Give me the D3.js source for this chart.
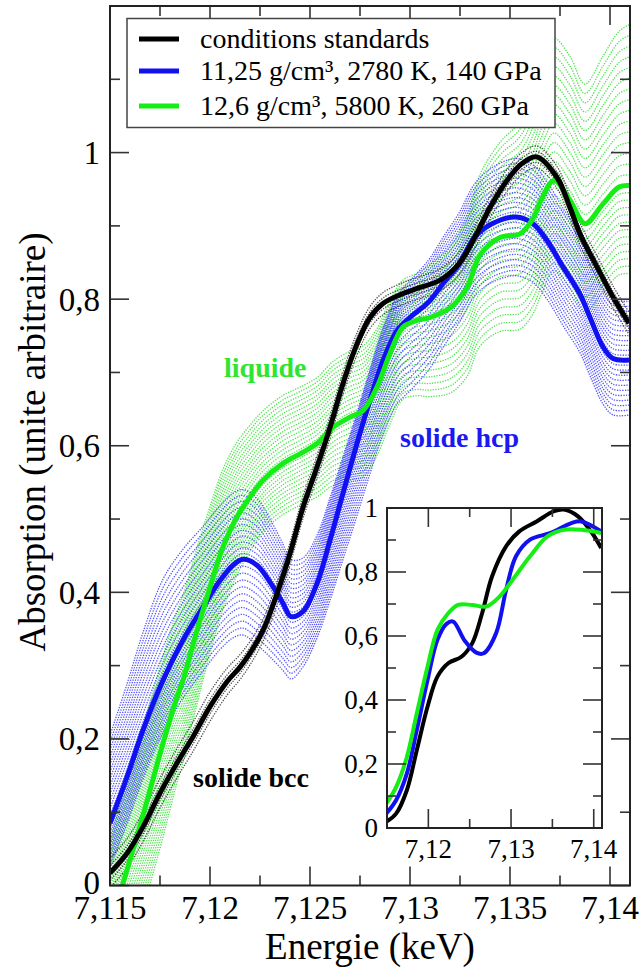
<!DOCTYPE html>
<html>
<head>
<meta charset="utf-8">
<script src="https://cdn.jsdelivr.net/npm/d3@7"></script>
<style>
    body { margin: 0; background: #fff; }
    svg text { font-family: "Liberation Serif", "Times New Roman", serif; }
</style>
</head>
<body>
<div id="chart"></div>
<script>
// main spectra (energy in keV, absorption)
const blackE = [7.115, 7.11585, 7.11665, 7.1175, 7.11835, 7.11915, 7.12, 7.12085, 7.1215, 7.122, 7.12265, 7.12335,
    7.124, 7.12465, 7.12535, 7.126, 7.12665, 7.12735, 7.128, 7.12865, 7.1295, 7.1305, 7.1315, 7.1325, 7.13325,
    7.134, 7.13485, 7.1356, 7.13635, 7.13735, 7.138, 7.1385, 7.13935, 7.14015, 7.14095];
const blackV = [0.017, 0.044, 0.080, 0.126, 0.167, 0.203, 0.244, 0.278, 0.298, 0.317, 0.348, 0.398,
    0.453, 0.516, 0.571, 0.625, 0.685, 0.739, 0.775, 0.794, 0.806, 0.816, 0.826, 0.850, 0.885,
    0.925, 0.962, 0.985, 0.994, 0.966, 0.925, 0.889, 0.844, 0.803, 0.767];

const blueE = [7.115, 7.11585, 7.11665, 7.11765, 7.11865, 7.11965, 7.1205, 7.12115, 7.12165, 7.12235, 7.123, 7.12365,
    7.12405, 7.12465, 7.12535, 7.126, 7.12665, 7.12735, 7.128, 7.12865, 7.12935, 7.13, 7.13065, 7.131, 7.13165,
    7.13245, 7.13325, 7.1341, 7.1353, 7.13615, 7.13685, 7.13765, 7.1385, 7.139, 7.13965, 7.14015, 7.14095];
const blueV = [0.085, 0.148, 0.212, 0.280, 0.335, 0.380, 0.416, 0.437, 0.445, 0.437, 0.414, 0.385,
    0.367, 0.374, 0.412, 0.471, 0.535, 0.603, 0.662, 0.716, 0.757, 0.775, 0.789, 0.798, 0.821,
    0.848, 0.885, 0.903, 0.912, 0.903, 0.880, 0.844, 0.807, 0.775, 0.735, 0.719, 0.717];

const greenE = [7.115, 7.11565, 7.11635, 7.117, 7.11765, 7.11835, 7.11865, 7.11935, 7.12, 7.12065, 7.12135, 7.122,
    7.12265, 7.12365, 7.1245, 7.12535, 7.12615, 7.127, 7.12765, 7.12835, 7.129, 7.12965, 7.13035, 7.131, 7.13205,
    7.13285, 7.1335, 7.1345, 7.1355, 7.13615, 7.13655, 7.1372, 7.138, 7.13875, 7.13965, 7.14045, 7.14095];
const greenV = [-0.06, 0.003, 0.067, 0.130, 0.194, 0.257, 0.280, 0.348, 0.407, 0.462, 0.503, 0.530,
    0.553, 0.576, 0.589, 0.603, 0.625, 0.639, 0.648, 0.680, 0.726, 0.762, 0.771, 0.775, 0.789,
    0.816, 0.860, 0.884, 0.889, 0.910, 0.935, 0.962, 0.935, 0.903, 0.930, 0.953, 0.955];

// spread of the dotted bands above / below each curve
const bandE = [7.115, 7.1175, 7.12, 7.1225, 7.125, 7.1275, 7.13, 7.1325, 7.135, 7.1365, 7.1375, 7.1388, 7.141];
const greenUp = [0.12, 0.12, 0.11, 0.095, 0.09, 0.09, 0.06, 0.09, 0.14, 0.18, 0.20, 0.19, 0.22];
const greenDown = [0.12, 0.13, 0.09, 0.07, 0.07, 0.09, 0.10, 0.12, 0.13, 0.13, 0.12, 0.12, 0.12];
const blueUp = [0.12, 0.14, 0.105, 0.09, 0.07, 0.04, 0.05, 0.07, 0.08, 0.08, 0.08, 0.08, 0.08];
const blueDown = [0.06, 0.07, 0.09, 0.11, 0.07, 0.10, 0.10, 0.08, 0.08, 0.08, 0.08, 0.08, 0.075];
const blackUp = [0.02, 0.02, 0.02, 0.015, 0.015, 0.015, 0.015, 0.015, 0.015, 0.015, 0.015, 0.015, 0.015];
const blackDown = [0.02, 0.02, 0.02, 0.015, 0.015, 0.015, 0.015, 0.015, 0.015, 0.015, 0.015, 0.015, 0.015];

// inset spectra
const insetBlackE = [7.1149, 7.1161, 7.1174, 7.1186, 7.1199, 7.1211, 7.1224, 7.124, 7.1253, 7.1265, 7.1277, 7.1294,
    7.131, 7.1331, 7.1352, 7.1364, 7.1381, 7.1398, 7.1409];
const insetBlackV = [0.019, 0.045, 0.118, 0.243, 0.379, 0.473, 0.515, 0.535, 0.577, 0.671, 0.786, 0.880,
    0.927, 0.958, 0.990, 0.995, 0.974, 0.922, 0.875];
const insetBlueE = [7.1149, 7.1161, 7.1174, 7.1186, 7.1199, 7.1211, 7.1222, 7.123, 7.1244, 7.1258, 7.1267, 7.1282,
    7.1294, 7.1306, 7.1323, 7.1348, 7.1373, 7.1385, 7.1409];
const insetBlueV = [0.045, 0.087, 0.170, 0.306, 0.462, 0.588, 0.638, 0.645, 0.585, 0.548, 0.546, 0.609,
    0.744, 0.849, 0.901, 0.922, 0.953, 0.958, 0.927];
const insetGreenE = [7.1149, 7.1161, 7.1174, 7.1186, 7.1199, 7.1211, 7.1224, 7.1236, 7.1253, 7.127, 7.1286, 7.1302,
    7.1323, 7.1344, 7.1364, 7.1385, 7.1409];
const insetGreenV = [0.076, 0.128, 0.222, 0.358, 0.504, 0.619, 0.671, 0.697, 0.697, 0.692, 0.723, 0.776,
    0.849, 0.911, 0.932, 0.932, 0.922];

// ticks
const xMajor = [7.115, 7.12, 7.125, 7.13, 7.135, 7.14];
const xMinor = [7.1175, 7.1225, 7.1275, 7.1325, 7.1375];
const yMajor = [0, 0.2, 0.4, 0.6, 0.8, 1];
const yMinor = [0.1, 0.3, 0.5, 0.7, 0.9, 1.1];
const insetXMajor = [7.12, 7.13, 7.14];
const insetXMinor = [7.115, 7.125, 7.135];
const insetYMajor = [0, 0.2, 0.4, 0.6, 0.8, 1];
const insetYMinor = [0.1, 0.3, 0.5, 0.7, 0.9];

const legendLabels = ["conditions standards", "11,25 g/cm³, 2780 K, 140 GPa", "12,6 g/cm³, 5800 K, 260 GPa"];
const colors = {black: "#000000", blue: "#1010f0", green: "#14ee14"};

const W = 640, H = 970;
const frame = {left: 110, right: 630, top: 6, bottom: 885.5};
const inset = {left: 387, right: 602, top: 508, bottom: 828};

const svg = d3.select("#chart").append("svg")
    .attr("width", W)
    .attr("height", H)
    .attr("font-family", "Liberation Serif, Times New Roman, serif");

const x = d3.scaleLinear().domain([7.115, 7.141]).range([frame.left, frame.right]);
const y = d3.scaleLinear().domain([0, 1.2]).range([frame.bottom, frame.top]);

const fmt = v => String(+v.toFixed(4)).replace(".", ",");

svg.append("clipPath").attr("id", "clipMain")
    .append("rect")
    .attr("x", frame.left).attr("y", frame.top)
    .attr("width", frame.right - frame.left).attr("height", frame.bottom - frame.top);

const plot = svg.append("g").attr("clip-path", "url(#clipMain)");

const line = d3.line()
    .x(d => x(d.e))
    .y(d => y(d.v))
    .curve(d3.curveCatmullRom.alpha(0.5));

// dotted bands: copies of the curve spread between lower and upper spread
function drawBand(es, vs, up, down, nUp, nDown, color, opacity) {
    let upS = d3.scaleLinear().domain(bandE).range(up).clamp(true);
    let downS = d3.scaleLinear().domain(bandE).range(down).clamp(true);
    let steps = d3.range(-nDown, nUp + 1).filter(i => i !== 0);
    steps.forEach(i => {
        let pts = es.map((e, k) => ({
            e: e,
            v: vs[k] + (i > 0 ? i / nUp * upS(e) : i / nDown * downS(e))
        }));
        plot.append("path")
            .datum(pts)
            .attr("d", line)
            .attr("fill", "none")
            .attr("stroke", color)
            .attr("stroke-opacity", opacity)
            .attr("stroke-width", 1.3)
            .attr("stroke-dasharray", "1.3 1.3");
    });
}

drawBand(greenE, greenV, greenUp, greenDown, 15, 12, "#3ce03c", 0.9);
drawBand(blueE, blueV, blueUp, blueDown, 12, 11, "#3535ff", 0.85);
drawBand(blackE, blackV, blackUp, blackDown, 2, 2, "#222", 0.8);

const toPts = (es, vs) => es.map((e, i) => ({e: e, v: vs[i]}));

[[blueE, blueV, colors.blue], [greenE, greenV, colors.green], [blackE, blackV, colors.black]].forEach(s => {
    plot.append("path")
        .datum(toPts(s[0], s[1]))
        .attr("d", line)
        .attr("fill", "none")
        .attr("stroke", s[2])
        .attr("stroke-width", 5)
        .attr("stroke-linejoin", "round");
});

// frame and ticks
function drawTicks(g, sx, sy, box, xMaj, xMin, yMaj, yMin, majLen, minLen) {
    let tick = (x1, y1, x2, y2) => g.append("line")
        .attr("x1", x1).attr("y1", y1).attr("x2", x2).attr("y2", y2)
        .attr("stroke", "#333").attr("stroke-width", 1.6);
    xMaj.concat(xMin).forEach((v, i) => {
        let len = i < xMaj.length ? majLen : minLen;
        tick(sx(v), box.bottom, sx(v), box.bottom - len);
        tick(sx(v), box.top, sx(v), box.top + len);
    });
    yMaj.concat(yMin).forEach((v, i) => {
        let len = i < yMaj.length ? majLen : minLen;
        tick(box.left, sy(v), box.left + len, sy(v));
        tick(box.right, sy(v), box.right - len, sy(v));
    });
    g.append("rect")
        .attr("x", box.left).attr("y", box.top)
        .attr("width", box.right - box.left).attr("height", box.bottom - box.top)
        .attr("fill", "none").attr("stroke", "#222").attr("stroke-width", 2);
}

drawTicks(svg.append("g"), x, y, frame, xMajor, xMinor, yMajor, yMinor, 19, 10);

svg.append("g").selectAll("text")
    .data(xMajor)
    .join("text")
    .attr("x", d => x(d))
    .attr("y", 919)
    .attr("text-anchor", "middle")
    .attr("font-size", 33)
    .text(fmt);

svg.append("g").selectAll("text")
    .data(yMajor)
    .join("text")
    .attr("x", 100)
    .attr("y", d => y(d) - (d === 0 ? 3 : 0))
    .attr("dy", "0.35em")
    .attr("text-anchor", "end")
    .attr("font-size", 33)
    .text(fmt);

svg.append("text")
    .attr("x", (frame.left + frame.right) / 2)
    .attr("y", 959)
    .attr("text-anchor", "middle")
    .attr("font-size", 37)
    .text("Energie (keV)");

svg.append("text")
    .attr("transform", "translate(45, 442) rotate(-90)")
    .attr("text-anchor", "middle")
    .attr("font-size", 37)
    .text("Absorption (unite arbitraire)");

// phase labels
[["liquide", 224, 377, "#2fe52f"], ["solide hcp", 400, 447, "#1a1af0"], ["solide bcc", 193, 787, "#000"]]
    .forEach(l => {
        svg.append("text")
            .attr("x", l[1]).attr("y", l[2])
            .attr("font-size", 28)
            .attr("font-weight", "bold")
            .attr("fill", l[3])
            .text(l[0]);
    });

// legend
const legend = svg.append("g");
legend.append("rect")
    .attr("x", 127).attr("y", 18.5)
    .attr("width", 428).attr("height", 109)
    .attr("fill", "#fff").attr("stroke", "#444").attr("stroke-width", 1.5);
const legendY = [39, 71, 106];
[colors.black, colors.blue, colors.green].forEach((c, i) => {
    legend.append("line")
        .attr("x1", 139).attr("x2", 179)
        .attr("y1", legendY[i]).attr("y2", legendY[i])
        .attr("stroke", c).attr("stroke-width", 5);
    legend.append("text")
        .attr("x", 200).attr("y", legendY[i] + 9)
        .attr("font-size", 28)
        .text(legendLabels[i]);
});

// inset
const xi = d3.scaleLinear().domain([7.115, 7.141]).range([inset.left, inset.right]);
const yi = d3.scaleLinear().domain([0, 1]).range([inset.bottom, inset.top]);

svg.append("rect")
    .attr("x", inset.left).attr("y", inset.top)
    .attr("width", inset.right - inset.left).attr("height", inset.bottom - inset.top)
    .attr("fill", "#fff");

svg.append("clipPath").attr("id", "clipInset")
    .append("rect")
    .attr("x", inset.left).attr("y", inset.top)
    .attr("width", inset.right - inset.left).attr("height", inset.bottom - inset.top);

const insetLine = d3.line()
    .x(d => xi(d.e))
    .y(d => yi(d.v))
    .curve(d3.curveCatmullRom.alpha(0.5));

const insetG = svg.append("g").attr("clip-path", "url(#clipInset)");
[[insetBlackE, insetBlackV, colors.black], [insetBlueE, insetBlueV, colors.blue], [insetGreenE, insetGreenV, colors.green]]
    .forEach(s => {
        insetG.append("path")
            .datum(toPts(s[0], s[1]))
            .attr("d", insetLine)
            .attr("fill", "none")
            .attr("stroke", s[2])
            .attr("stroke-width", 4);
    });

drawTicks(svg.append("g"), xi, yi, inset, insetXMajor, insetXMinor, insetYMajor, insetYMinor, 19, 9);

svg.append("g").selectAll("text")
    .data(insetXMajor)
    .join("text")
    .attr("x", d => xi(d))
    .attr("y", 858)
    .attr("text-anchor", "middle")
    .attr("font-size", 27)
    .text(fmt);

svg.append("g").selectAll("text")
    .data(insetYMajor)
    .join("text")
    .attr("x", 378)
    .attr("y", d => yi(d))
    .attr("dy", "0.35em")
    .attr("text-anchor", "end")
    .attr("font-size", 27)
    .text(fmt);
</script>
</body>
</html>
